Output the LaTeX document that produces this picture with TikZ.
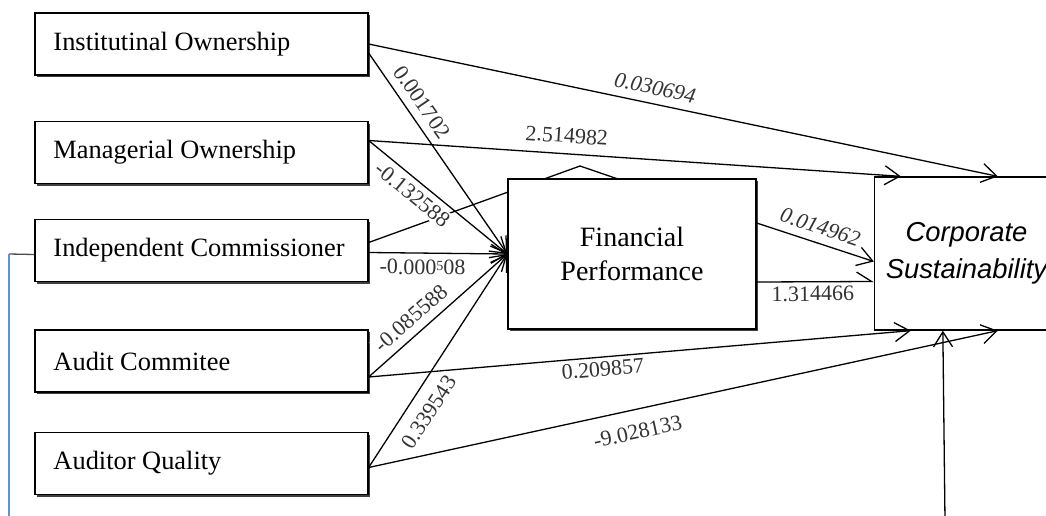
\documentclass[tikz,border=0pt]{standalone}
\usepackage{fontspec}
\setmainfont{Liberation Serif}
\newfontfamily\csfont{Liberation Sans}
\usetikzlibrary{arrows.meta,shadows}
\definecolor{linkblue}{RGB}{96,146,210}

\begin{document}
\begin{tikzpicture}[x=0.5pt,y=-0.5pt,line width=0.65pt,
 >={Straight Barb[length=7.5pt,width=9.5pt]},
 var/.style={draw,fill=white,text width=148pt,inner xsep=9.25pt,minimum height=31pt,align=flush left,
  font=\fontsize{13.2}{16}\selectfont,
  drop shadow={shadow xshift=1pt,shadow yshift=-1pt,fill=black!75,opacity=1}},
 coef/.style={font=\fontsize{11}{13}\selectfont,text=black!80,fill=white,inner sep=1pt,sloped}]
\clip (0,0) rectangle (1046,515);
\node[var] (io) at (201.5,44) {Institutinal Ownership};
\node[var] (mo) at (201.5,152.5) {Managerial Ownership};
\node[var] (ic) at (201.5,250.5) {Independent Commissioner};
\node[var] (ac) at (201.5,361) {Audit Commitee};
\node[var] (aq) at (201.5,463.5) {Auditor Quality};
\node[draw,fill=white,minimum width=92pt,minimum height=76.5pt,align=center,
 font=\csfont\itshape\fontsize{13.7}{18.5}\selectfont] (cs) at (966.5,253.5) {Corporate\\Sustainability};
\coordinate (roof) at (580,166);
\coordinate (eave) at (618,179);
\draw ([yshift=4pt]ic.east) -- (roof) -- (eave);
\node[draw,fill=white,minimum width=124pt,minimum height=75pt,align=center,
 font=\fontsize{14}{17}\selectfont,
 drop shadow={shadow xshift=1pt,shadow yshift=-1pt,fill=black!75,opacity=1}] (fp) at (632,254) {Financial\\Performance};
\draw[->] (io.east) -- node[coef,pos=0.45,above=3pt] {\itshape 0.030694} ([xshift=62pt]cs.north west);
\draw[->] ([yshift=6pt]mo.east) -- node[coef,pos=0.37,above=4pt] {2.514982} ([xshift=13.5pt]cs.north west);
\draw[->] ([yshift=-8pt]ac.east) -- node[coef,pos=0.43,below=1pt] {0.209857} ([xshift=18.5pt]cs.south west);
\draw[->] ([yshift=-2pt]aq.east) -- node[coef,pos=0.42,below=6pt] {-9.028133} ([xshift=62pt]cs.south west);
\draw[->] ([yshift=-4.5pt]io.east) -- node[coef,pos=0.29,above=3pt] {0.001702} (fp.west);
\draw[->] ([yshift=6pt]mo.east) -- node[coef,pos=0.38,below=2pt] {-0.132588} (fp.west);
\draw[->] ([yshift=-1pt]ic.east) -- node[coef,pos=0.39,below=2pt] {-0.000\raisebox{2pt}{\scriptsize 5}08} (fp.west);
\draw[->] ([yshift=-8pt]ac.east) -- node[coef,pos=0.38,above=3pt] {-0.085588} (fp.west);
\draw[->] ([yshift=-2pt]aq.east) -- node[coef,pos=0.31,below=5pt] {0.339543} (fp.west);
\draw[->] ([yshift=15.5pt]fp.east) -- node[coef,pos=0.5,above=3pt] {\itshape 0.014962} ([yshift=-4pt]cs.west);
\draw[-{Straight Barb[harpoon,length=7.5pt,width=9.5pt]}] ([yshift=-14pt]fp.east) -- node[coef,pos=0.48,below=1pt] {1.314466} ([yshift=-14pt]cs.west);
\coordinate (base) at (945,520);
\draw[->] (base) -- ([xshift=34.5pt]cs.south west);
\coordinate (bend) at (9,254);
\coordinate (foot) at (9,520);
\draw[black!70] ([yshift=-2pt]ic.west) -- (bend);
\draw[linkblue] (bend) -- (foot);
\end{tikzpicture}
\end{document}
